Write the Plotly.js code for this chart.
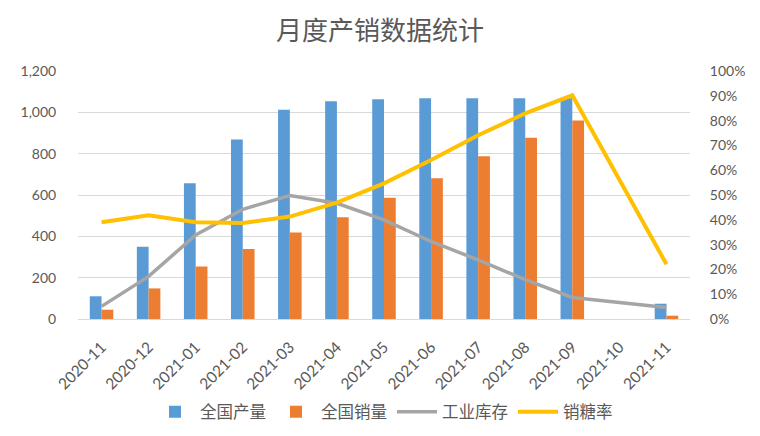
<!DOCTYPE html>
<html>
<head>
<meta charset="utf-8">
<script src="https://cdn.plot.ly/plotly-3.0.1.min.js"></script>
<style>html,body{margin:0;padding:0;background:#fff;}#chart{width:760px;height:436px;}</style>
</head>
<body>
<div id="chart"></div>
<script>
const months = ['2020-11','2020-12','2021-01','2021-02','2021-03','2021-04','2021-05','2021-06','2021-07','2021-08','2021-09','2021-10','2021-11'];
const production = [110, 350, 657, 869, 1012, 1054, 1063, 1068, 1068, 1068, 1068, null, 74];
const sales = [45, 148, 254, 339, 418, 492, 587, 681, 788, 877, 960, null, 16];
const inventory = [61, 206, 407, 531, 597, 560, 480, 375, 286, 190, 104, null, 56];
const salesRate = [0.39, 0.418, 0.39, 0.387, 0.413, 0.469, 0.547, 0.641, 0.741, 0.829, 0.902, null, 0.221];

const tickFont = {family: 'Lato, "Noto Sans", sans-serif', size: 14, color: '#595959'};
const xTickFont = {family: 'Lato, "Noto Sans", sans-serif', size: 15.5, color: '#595959'};
const traces = [
  {type: 'bar', name: '全国产量', x: months, y: production, marker: {color: '#5B9BD5'}},
  {type: 'bar', name: '全国销量', x: months, y: sales, marker: {color: '#ED7D31'}},
  {type: 'scatter', mode: 'lines', name: '工业库存', x: months, y: inventory, connectgaps: true,
   line: {color: '#A5A5A5', width: 3.5}},
  {type: 'scatter', mode: 'lines', name: '销糖率', x: months, y: salesRate, yaxis: 'y2', connectgaps: true,
   line: {color: '#FFC000', width: 4}}
];
const layout = {
  width: 760, height: 436,
  margin: {l: 78, r: 70, t: 71, b: 117, autoexpand: false},
  paper_bgcolor: '#fff', plot_bgcolor: '#fff',
  title: {text: '月度产销数据统计', x: 0.5, xanchor: 'center', y: 0.93, yanchor: 'middle',
          font: {family: '"Noto Sans CJK SC", sans-serif', size: 26, color: '#595959'}},
  barmode: 'group', bargap: 0.5, bargroupgap: 0,
  showlegend: true,
  legend: {orientation: 'h', x: 0.5, xanchor: 'center', yref: 'container', y: 0.055, yanchor: 'middle',
           font: {family: '"Noto Sans CJK SC", sans-serif', size: 16.5, color: '#595959'},
           itemwidth: 40, traceorder: 'normal'},
  xaxis: {type: 'category', tickangle: -45, tickfont: xTickFont, showgrid: false,
          showline: true, linecolor: '#d9d9d9', linewidth: 1, automargin: false,
          ticks: 'outside', ticklen: 12, tickcolor: 'rgba(0,0,0,0)'},
  yaxis: {range: [0, 1200], dtick: 200, tickformat: ',d', tickfont: tickFont, automargin: false,
          showgrid: true, gridcolor: '#d9d9d9', gridwidth: 1, zeroline: false,
          ticks: 'outside', ticklen: 18, tickcolor: 'rgba(0,0,0,0)', showline: false},
  yaxis2: {range: [0, 1], dtick: 0.1, tickformat: '.0%', overlaying: 'y', side: 'right', automargin: false,
           tickfont: tickFont, showgrid: false, zeroline: false,
           ticks: 'outside', ticklen: 16, tickcolor: 'rgba(0,0,0,0)', showline: false}
};
Plotly.newPlot('chart', traces, layout, {displayModeBar: false, staticPlot: true});
</script>
</body>
</html>
